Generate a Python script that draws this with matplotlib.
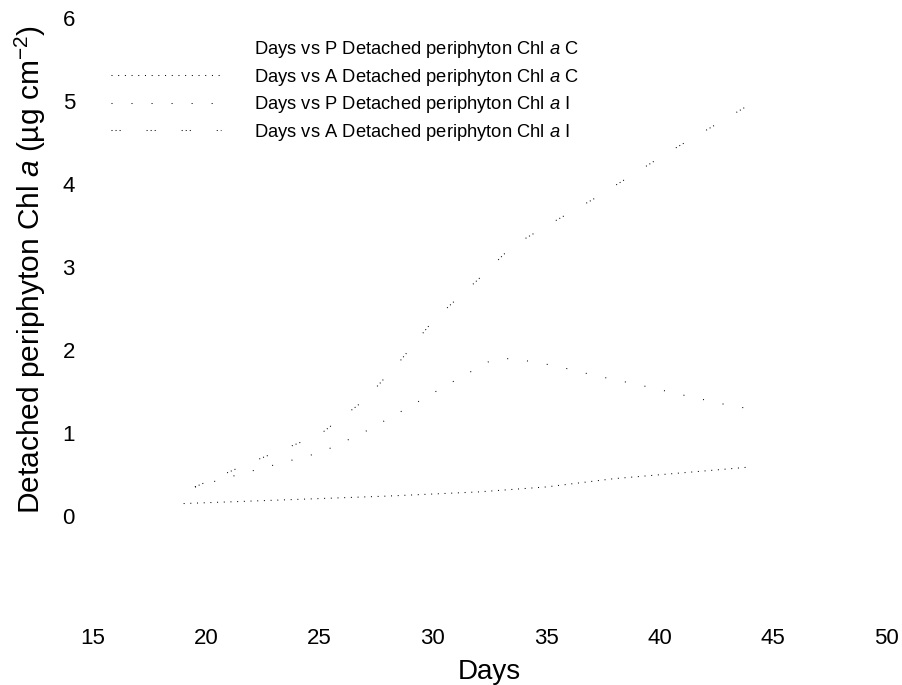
import matplotlib
matplotlib.use("Agg")
import matplotlib.pyplot as plt

# ------------------------------------------------------------
# Data

days_a_c = [19, 22, 25, 28, 32, 35, 38, 41, 44]
a_c = [0.15, 0.18, 0.21, 0.24, 0.29, 0.35, 0.45, 0.52, 0.59]

days_p_i = [19.5, 21.3, 23.2, 25.1, 26.9, 28.8, 30.7, 32.6, 33.5, 35.4, 37.2, 39.1, 41.0, 42.8, 43.8]
p_i = [0.35, 0.49, 0.63, 0.77, 1.00, 1.29, 1.59, 1.88, 1.90, 1.81, 1.69, 1.58, 1.46, 1.35, 1.30]

days_a_i = [19.5, 22.0, 25.0, 27.0, 28.5, 30.0, 32.0, 33.5, 35.3, 37.1, 38.8, 40.5, 42.2, 44.0]
a_i = [0.35, 0.65, 0.98, 1.40, 1.85, 2.35, 2.85, 3.25, 3.54, 3.82, 4.11, 4.40, 4.67, 4.96]

labels = [
    "Days vs P Detached periphyton Chl $\\it{a}$ C",
    "Days vs A Detached periphyton Chl $\\it{a}$ C",
    "Days vs P Detached periphyton Chl $\\it{a}$ I",
    "Days vs A Detached periphyton Chl $\\it{a}$ I",
]

x_ticks = [15, 20, 25, 30, 35, 40, 45, 50]
y_ticks = [0, 1, 2, 3, 4, 5, 6]

# ------------------------------------------------------------
# Style

plt.rcParams["font.family"] = ["Liberation Sans", "DejaVu Sans"]
plt.rcParams["mathtext.fontset"] = "custom"
plt.rcParams["mathtext.rm"] = "Liberation Sans"
plt.rcParams["mathtext.it"] = "Liberation Sans:italic"
plt.rcParams["lines.scale_dashes"] = False

fig = plt.figure(figsize=(9.03, 6.85), dpi=100)
W, H = 903, 685
ax_top, ax_bot = 18, 620
ax = fig.add_axes([93 / W, (H - ax_bot) / H, (886 - 93) / W, (ax_bot - ax_top) / H])

lw = 0.75
# P C has no visible line in the reference, only a legend entry
ax.plot([], [], linestyle="none", label=labels[0])
ax.plot(days_a_c, a_c, color="black", lw=lw, dashes=(0.72, 4.1), label=labels[1])
ax.plot(days_p_i, p_i, color="black", lw=lw, dashes=(0.72, 13.7), label=labels[2])
ax.plot(days_a_i, a_i, color="black", lw=lw,
        dashes=(0.72, 2.2, 0.72, 2.2, 0.72, 18.7), label=labels[3])

ax.set_xlim(15, 50)
ax.set_ylim(-(ax_bot - 516) / 83, 6)
ax.set_xticks(x_ticks)
ax.set_yticks(y_ticks)
ax.tick_params(length=0, labelsize=16)
ax.tick_params(axis="y", pad=13)
ax.tick_params(axis="x", pad=6)
for s in ax.spines.values():
    s.set_visible(False)

ax.set_xlabel("Days", fontsize=20)
ax.xaxis.set_label_coords(0.5, -(659 - ax_bot) / (ax_bot - ax_top))
ax.set_ylabel("Detached periphyton Chl $\\it{a}$ ($\\mathrm{\u00b5g\\ cm^{-2}}$)",
              fontsize=21.5)
ax.yaxis.set_label_coords((48 - 93) / (886 - 93), (ax_bot - 270) / (ax_bot - ax_top))

ax.legend(loc="upper left", bbox_to_anchor=(111 / W, 1 - 39 / H),
          bbox_transform=fig.transFigure, frameon=False, fontsize=13.2,
          handlelength=6.0, handletextpad=1.8, labelspacing=0.36,
          borderpad=0, borderaxespad=0)

plt.savefig("out.png", dpi=100)
